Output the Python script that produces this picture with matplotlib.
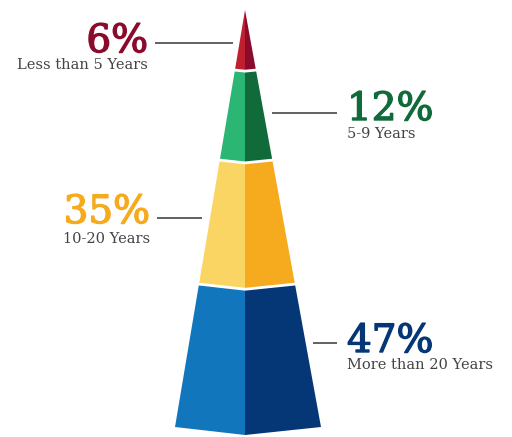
import matplotlib
matplotlib.use("Agg")
import matplotlib.pyplot as plt
from matplotlib.patches import Polygon
import matplotlib.patheffects as pe

# ---- data ----
categories = ["Less than 5 Years", "5-9 Years", "10-20 Years", "More than 20 Years"]
percentages = [6, 12, 35, 47]

# ---- style / layout ----
light_colors = ["#C01F30", "#2BB673", "#FBD563", "#1176BC"]
dark_colors = ["#8A0B2B", "#106A3A", "#F6AA1E", "#053777"]
label_colors = ["#8A0B2B", "#106A3A", "#F6AA1E", "#053777"]
levels = [10, 70, 160, 284, 427]      # segment boundaries (pixel layout)
apex_x, base_left, base_right = 245, 175, 321
# label layout: (side, text x, pct baseline, sub baseline, line x0, line x1, line y)
label_layout = [
    ("left", 148, 52, 69, 155, 233, 43),
    ("right", 347, 120, 138, 272, 337, 113),
    ("left", 150, 223, 243, 157, 202, 218),
    ("right", 347, 352, 369, 313, 337, 343),
]

W, H = 512, 437
fig = plt.figure(figsize=(W / 100, H / 100), dpi=100)
ax = fig.add_axes([0, 0, 1, 1])
ax.set_xlim(0, W)
ax.set_ylim(H, 0)
ax.axis("off")

top, bottom = levels[0], levels[-1]
def lx(y):
    return apex_x - (apex_x - base_left) * (y - top) / (bottom - top)
def rx(y):
    return apex_x + (base_right - apex_x) * (y - top) / (bottom - top)
def dip(y):
    return 8 * (y - top) / (bottom - top)

for i in range(len(percentages)):
    y0, y1 = levels[i], levels[i + 1]
    left_face = [(lx(y0), y0), (apex_x, y0 + dip(y0)), (apex_x, y1 + dip(y1)), (lx(y1), y1)]
    right_face = [(apex_x, y0 + dip(y0)), (rx(y0), y0), (rx(y1), y1), (apex_x, y1 + dip(y1))]
    ax.add_patch(Polygon(left_face, closed=True, facecolor=light_colors[i], edgecolor="none"))
    ax.add_patch(Polygon(right_face, closed=True, facecolor=dark_colors[i], edgecolor="none"))

for y in levels[1:-1]:
    ax.plot([lx(y) - 1, apex_x, rx(y) + 1], [y, y + dip(y), y], color="white", lw=2.0,
            solid_capstyle="butt", zorder=3)

for i, (cat, pct) in enumerate(zip(categories, percentages)):
    side, tx, py, sy, x0, x1, ly = label_layout[i]
    ha = "right" if side == "left" else "left"
    ax.plot([x0, x1], [ly, ly], color="#555555", lw=1.3, solid_capstyle="butt")
    ax.text(tx, py, f"{pct}%", ha=ha, va="baseline", fontsize=28, family="DejaVu Serif",
            color=label_colors[i],
            path_effects=[pe.withStroke(linewidth=1.0, foreground=label_colors[i])])
    ax.text(tx, sy, cat, ha=ha, va="baseline", fontsize=10.5, family="DejaVu Serif",
            color="#444444")

fig.savefig("out.png", dpi=100)
